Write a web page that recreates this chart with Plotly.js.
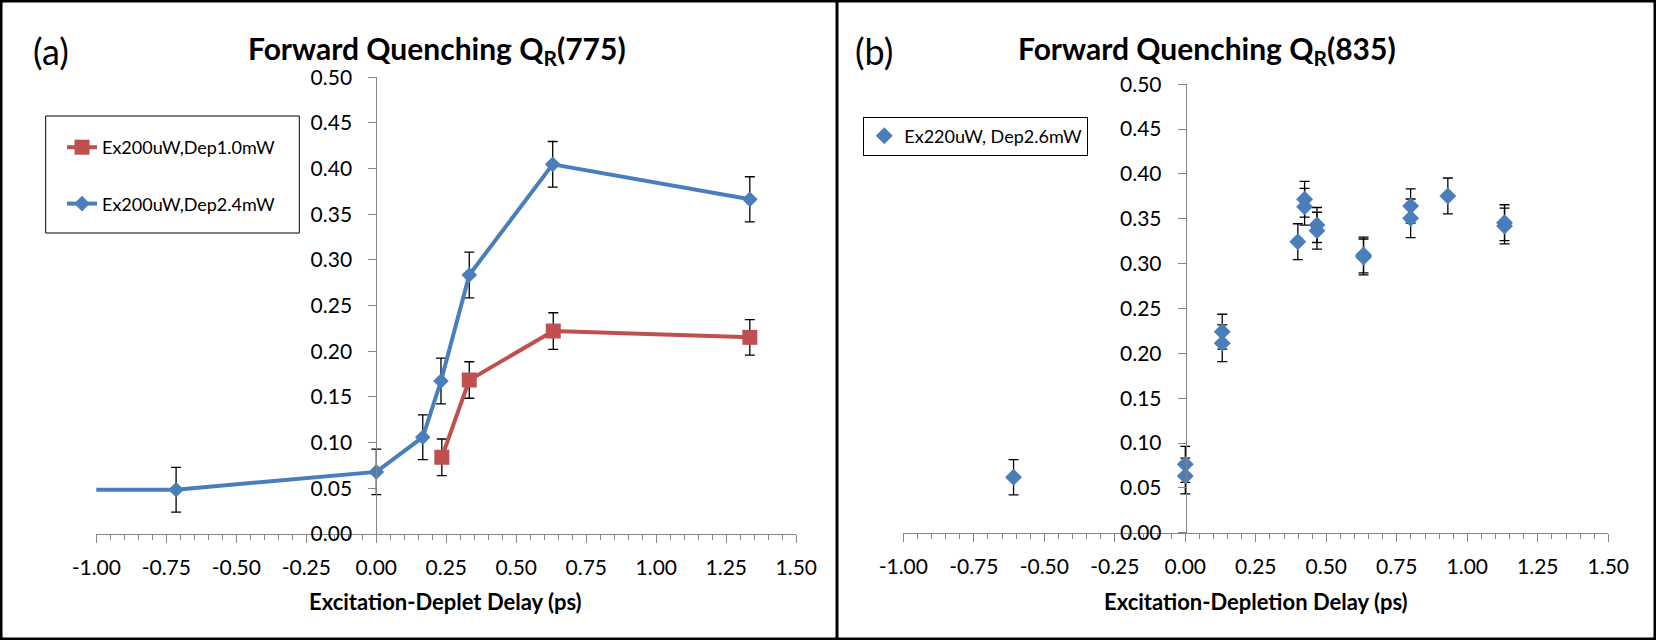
<!DOCTYPE html>
<html>
<head>
<meta charset="utf-8">
<script src="https://cdn.plot.ly/plotly-3.0.1.min.js"></script>
<style>
  html, body { margin: 0; padding: 0; background: #fff; }
  #myDiv { width: 1656px; height: 640px; }
</style>
</head>
<body>
<div id="myDiv"></div>
<script>
// ---- data ----
// panel (a): Forward Quenching QR(775)
let dep24X = [-1.33, -0.715, 0.0, 0.166, 0.231, 0.332, 0.630, 1.334]
let dep24Y = [0.0485, 0.0485, 0.068, 0.106, 0.1675, 0.2836, 0.4047, 0.3664]
let dep24Err = [0.0245, 0.0245, 0.025, 0.0245, 0.025, 0.025, 0.025, 0.0247]

let dep10X = [0.234, 0.332, 0.632, 1.334]
let dep10Y = [0.084, 0.1686, 0.2222, 0.2153]
let dep10Err = [0.020, 0.020, 0.020, 0.0195]

// panel (b): Forward Quenching QR(835)
let dep26X = [-0.609, 0.0, 0.0, 0.131, 0.131, 0.399, 0.423, 0.423, 0.467, 0.467, 0.632, 0.632, 0.799, 0.799, 0.931, 1.132, 1.132]
let dep26Y = [0.0618, 0.0762, 0.0632, 0.2241, 0.2112, 0.3245, 0.3718, 0.3635, 0.3431, 0.3368, 0.3097, 0.3075, 0.3643, 0.3506, 0.3755, 0.3457, 0.342]
let dep26Err = [0.0197, 0.020, 0.020, 0.0195, 0.0205, 0.020, 0.020, 0.0205, 0.0195, 0.0205, 0.020, 0.020, 0.019, 0.0215, 0.020, 0.020, 0.020]

let xTickVals = [-1, -0.75, -0.5, -0.25, 0, 0.25, 0.5, 0.75, 1, 1.25, 1.5]
let xTickText = ["-1.00", "-0.75", "-0.50", "-0.25", "0.00", "0.25", "0.50", "0.75", "1.00", "1.25", "1.50"]

// ---- helpers: pixel -> paper fraction ----
const W = 1656, H = 640
function px(x){ return x / W }
function py(y){ return 1 - y / H }

const FONT = "Lato, 'Open Sans', sans-serif"
const BLUE = "#4A7EBB"
const RED = "#C0504D"
const AXC = "#868686"

function errBars(arr){
	return {type: 'data', array: arr, visible: true, color: '#000', thickness: 1.3, width: 5}
}

var data = [
	{
		x: dep24X, y: dep24Y, xaxis: 'x', yaxis: 'y',
		name: 'Ex200uW,Dep2.4mW', legend: 'legend', legendgroup: 'b', legendrank: 2,
		mode: 'lines+markers',
		line: {color: BLUE, width: 4},
		marker: {symbol: 'diamond', size: 12, color: BLUE},
		error_y: errBars(dep24Err)
	},
	{
		x: dep10X, y: dep10Y, xaxis: 'x', yaxis: 'y',
		name: 'Ex200uW,Dep1.0mW', legend: 'legend', legendgroup: 'r', legendrank: 1,
		mode: 'lines+markers',
		line: {color: RED, width: 4},
		marker: {symbol: 'square', size: 15, color: RED},
		error_y: errBars(dep10Err)
	},
	{
		x: dep26X, y: dep26Y, xaxis: 'x2', yaxis: 'y2',
		name: 'Ex220uW, Dep2.6mW', legend: 'legend2',
		mode: 'markers',
		marker: {symbol: 'diamond', size: 13, color: BLUE},
		error_y: errBars(dep26Err)
	}
]

function xMain(dom, yref){
	return {
		domain: dom, range: [-1, 1.5], anchor: yref, fixedrange: true,
		showline: true, linecolor: AXC, linewidth: 1,
		ticks: 'outside', ticklen: 8, tickcolor: AXC, tickwidth: 1,
		tickmode: 'array', tickvals: xTickVals, ticktext: xTickText,
		tickfont: {family: FONT, size: 21, color: '#000'},
		ticklabelstandoff: 7,
		minor: {tickmode: 'linear', tick0: 0, dtick: 0.05, ticks: 'outside', ticklen: 5, tickcolor: AXC, showgrid: false},
		showgrid: false, zeroline: false
	}
}
function xCross(over, yref){
	return {
		overlaying: over, anchor: yref, range: [-1, 1.5], fixedrange: true,
		ticks: 'inside', ticklen: 8, tickcolor: AXC, tickwidth: 1,
		tickmode: 'array', tickvals: xTickVals, showticklabels: false,
		showline: false, showgrid: false, zeroline: false
	}
}
function yMain(dom, pos){
	return {
		domain: dom, range: [0, 0.5], anchor: 'free', position: pos, fixedrange: true,
		showline: true, linecolor: AXC, linewidth: 1,
		ticks: 'outside', ticklen: 8, tickcolor: AXC, tickwidth: 1,
		tick0: 0, dtick: 0.05, tickformat: '.2f',
		tickfont: {family: FONT, size: 21, color: '#000'},
		ticklabelstandoff: 12,
		showgrid: false, zeroline: false
	}
}
function yCross(over, pos){
	return {
		overlaying: over, anchor: 'free', position: pos, range: [0, 0.5], fixedrange: true,
		ticks: 'inside', ticklen: 8, tickcolor: AXC, tickwidth: 1,
		tick0: 0, dtick: 0.05, showticklabels: false,
		showline: false, showgrid: false, zeroline: false
	}
}

let domXa = [px(96.3), px(796.3)], domYa = [py(534), py(77.3)]
let domXb = [px(903.3), px(1608.3)], domYb = [py(532.7), py(84.3)]
let posA = px(376.3), posB = px(1185.7)

function ann(text, x, y, size, extra){
	return Object.assign({
		text: text, xref: 'paper', yref: 'paper', x: px(x), y: py(y),
		xanchor: 'center', yanchor: 'middle', showarrow: false,
		font: {family: FONT, size: size, color: '#000'}
	}, extra || {})
}

var layout = {
	width: W, height: H,
	margin: {l: 0, r: 0, t: 0, b: 0},
	paper_bgcolor: '#fff', plot_bgcolor: 'rgba(0,0,0,0)',
	xaxis: xMain(domXa, 'y'), yaxis: yMain(domYa, posA),
	xaxis3: xCross('x', 'y'), yaxis3: yCross('y', posA),
	xaxis2: xMain(domXb, 'y2'), yaxis2: yMain(domYb, posB),
	xaxis4: xCross('x2', 'y2'), yaxis4: yCross('y2', posB),
	showlegend: true,
	// left legend: box drawn as a shape, entries spread out inside it
	legend: {
		x: px(62), y: py(129), xanchor: 'left', yanchor: 'top',
		bgcolor: 'rgba(0,0,0,0)', borderwidth: 0,
		font: {family: FONT, size: 18, color: '#000'},
		traceorder: 'grouped', tracegroupgap: 30
	},
	legend2: {
		x: px(863.3), y: py(116.5), xanchor: 'left', yanchor: 'top',
		bgcolor: '#fff', bordercolor: '#000', borderwidth: 1,
		font: {family: FONT, size: 18, color: '#000'}
	},
	annotations: [
		ann('(a)', 50.5, 51, 36),
		ann('<b>Forward Quenching Q<sub>R</sub>(775)</b>', 436.5, 50, 30),
		ann('<b>Excitation-Deplet Delay (ps)</b>', 446, 601, 22),
		ann('(b)', 874, 51, 36),
		ann('<b>Forward Quenching Q<sub>R</sub>(835)</b>', 1206.5, 50, 30),
		ann('<b>Excitation-Depletion Delay (ps)</b>', 1256, 601, 22)
	],
	shapes: [
		{type: 'rect', xref: 'paper', yref: 'paper', x0: 0, y0: 0, x1: 1, y1: 1, line: {color: '#000', width: 5}},
		{type: 'line', xref: 'paper', yref: 'paper', x0: px(837), y0: 0, x1: px(837), y1: 1, line: {color: '#000', width: 3}},
		{type: 'rect', xref: 'paper', yref: 'paper', layer: 'above',
			x0: px(45.7), x1: px(299.3), y0: py(233), y1: py(116),
			fillcolor: '#fff', line: {color: '#000', width: 1}}
	]
}

Plotly.newPlot('myDiv', data, layout, {displayModeBar: false, staticPlot: true})
</script>
</body>
</html>
